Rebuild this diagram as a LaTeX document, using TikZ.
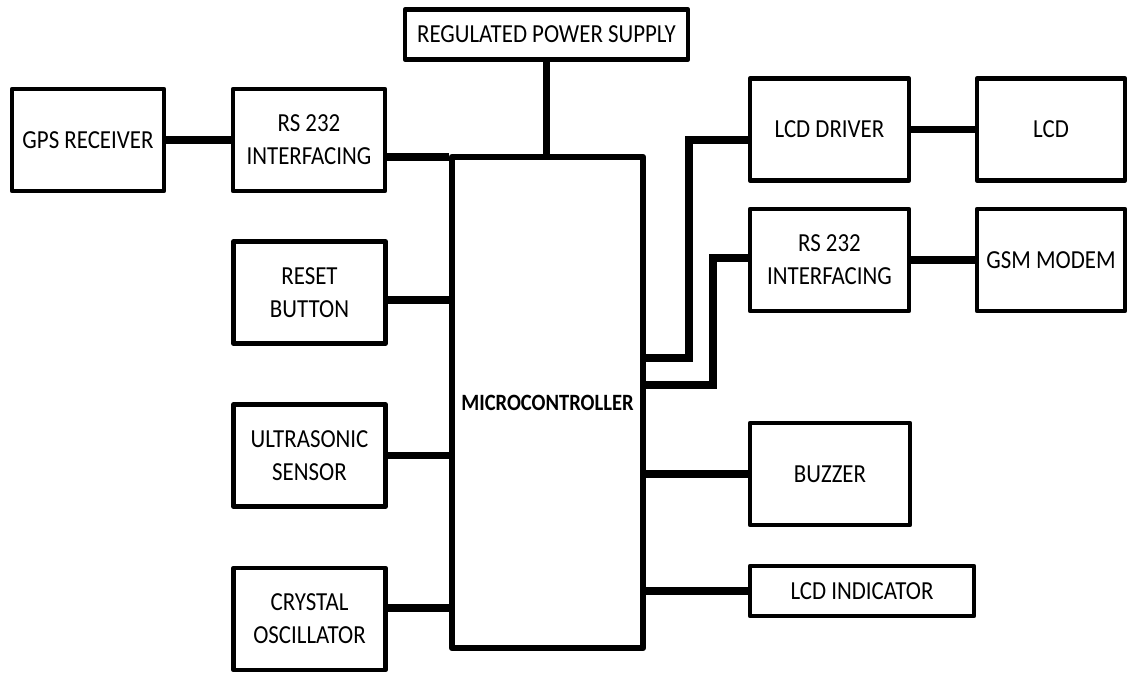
\documentclass[tikz,border=0pt]{standalone}
\usepackage{fontspec}
\setmainfont{Carlito}[FakeStretch=0.88]
\usepackage{tikz}
\usetikzlibrary{positioning,calc}
\tikzset{
    every picture/.style={line cap=round,line join=round},
    block/.style={draw=black,fill=white,line width=2.6pt,
      minimum width=3.04cm,minimum height=2.04cm,inner sep=2pt,
      font=\fontsize{14.8}{18.8}\selectfont,align=center},
    wideblock/.style={block,minimum height=1.0cm},
    mcublock/.style={block,line width=3.6pt,minimum width=3.82cm,
      minimum height=9.82cm,font=\fontsize{13.3}{18.8}\selectfont\bfseries},
    wire/.style={draw=black,line width=4.4pt,line cap=butt,line join=miter}
}
\begin{document}
\begin{tikzpicture}
  \useasboundingbox (0,0) rectangle (22.6,-13.46);

  % left column
  \node[block] (gps) at (1.76,-2.80) {GPS RECEIVER};
  \node[block] (rsleft) at (6.18,-2.80) {RS 232\\INTERFACING};
  \node[block] (reset) at (6.19,-5.85) {RESET\\BUTTON};
  \node[block] (ultra) at (6.19,-9.11) {ULTRASONIC\\SENSOR};
  \node[block] (crystal) at (6.19,-12.38) {CRYSTAL\\OSCILLATOR};

  % centre
  \node[wideblock,minimum width=5.66cm] (power) at (10.93,-0.69) {REGULATED POWER SUPPLY};
  \node[mcublock] (mcu) at (10.95,-8.05) {MICROCONTROLLER};

  % right column
  \node[block,minimum width=3.18cm] (lcddrv) at (16.59,-2.59) {LCD DRIVER};
  \node[block,minimum width=2.96cm] (lcd) at (21.02,-2.59) {LCD};
  \node[block,minimum width=3.18cm] (rsright) at (16.59,-5.20) {RS 232\\INTERFACING};
  \node[block,minimum width=2.96cm] (gsm) at (21.02,-5.20) {GSM MODEM};
  \node[block,minimum width=3.20cm] (buzzer) at (16.60,-9.48) {BUZZER};
  \node[wideblock,minimum width=4.48cm] (lcdind) at (17.24,-11.82) {LCD INDICATOR};

  \coordinate (drvbend) at (13.78,-2.80);
  \coordinate (rsbend) at (14.26,-5.16);

  \draw[wire] (gps) -- (rsleft);
  \draw[wire] ([yshift=-3.4mm]rsleft.east) -- ([yshift=-3.4mm]rsleft.east -| mcu.west);
  \draw[wire] (power.south) -- (power.south |- mcu.north);
  \draw[wire] ([yshift=-1.5mm]reset.east) -- ([yshift=-1.5mm]reset.east -| mcu.west);
  \draw[wire] (ultra.east) -- (ultra.east -| mcu.west);
  \draw[wire] ([yshift=2.2mm]crystal.east) -- ([yshift=2.2mm]crystal.east -| mcu.west);

  \draw[wire] ([yshift=8.9mm]mcu.east) -| (drvbend) -- (drvbend -| lcddrv.west);
  \draw[wire] ([yshift=3.5mm]mcu.east) -| (rsbend) -- (rsbend -| rsright.west);
  \draw[wire] (lcddrv) -- (lcd);
  \draw[wire] (rsright) -- (gsm);
  \draw[wire] (buzzer.west -| mcu.east) -- (buzzer.west);
  \draw[wire] (lcdind.west -| mcu.east) -- (lcdind.west);
\end{tikzpicture}
\end{document}
